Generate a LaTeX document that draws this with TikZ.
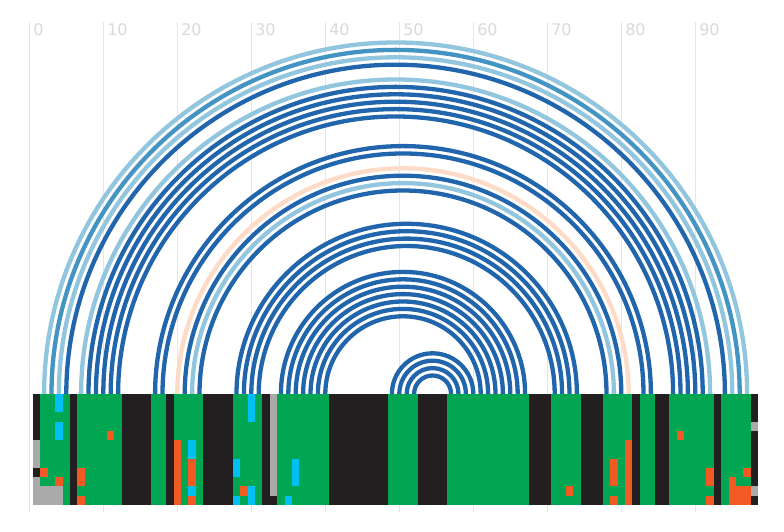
\documentclass[tikz,border=0pt]{standalone}
\usepackage{fontspec}
\setmainfont{DejaVu Sans}
\definecolor{arcL}{HTML}{92C5DE}
\definecolor{arcM}{HTML}{4393C3}
\definecolor{arcD}{HTML}{2166AC}
\definecolor{arcP}{HTML}{FDDBC7}
\definecolor{bdark}{HTML}{231F20}
\definecolor{bgreen}{HTML}{00A651}
\definecolor{bcyan}{HTML}{00BFF3}
\definecolor{borange}{HTML}{F15A22}
\definecolor{bgray}{HTML}{AAAAAA}
\definecolor{gridc}{HTML}{E6E6E6}
\definecolor{lblc}{HTML}{DADADA}
\tikzset{
  gridline/.style={draw=gridc, line width=1pt},
  axlabel/.style={anchor=north west, inner sep=0pt, text=lblc, font=\fontsize{16}{16}\selectfont},
  pairarc/.style={line width=4.3pt}
}
\begin{document}
\begin{tikzpicture}[x=1pt,y=1pt]
\useasboundingbox (0,0) rectangle (784,532);
\fill[white] (0,0) rectangle (784,532);
% grid and labels
\foreach \n in {0,...,9} {
  \draw[gridline] ({29.3+74*\n},20) -- ({29.3+74*\n},510);
  \pgfmathtruncatemacro{\lab}{10*\n}
  \node[axlabel] (lab\n) at ({29.3+74*\n+3.8},508.7) {\lab};
}
% arcs
\foreach \i/\j/\c in {2/97/arcL,3/96/arcM,4/95/arcL,5/94/arcD,
  7/92/arcL,8/91/arcD,9/90/arcD,10/89/arcD,11/88/arcD,12/87/arcD,
  17/84/arcD,18/83/arcD,20/81/arcP,21/80/arcD,22/79/arcL,23/78/arcD,
  28/74/arcD,29/73/arcD,30/72/arcD,31/71/arcD,
  34/67/arcD,35/66/arcD,36/65/arcD,37/64/arcD,38/63/arcD,39/62/arcD,40/61/arcD,
  49/60/arcD,50/59/arcD,51/58/arcD,52/57/arcD} {
  \draw[pairarc, draw=\c] ({29.3+7.4*\j},138) arc[start angle=0, end angle=180, radius={3.7*(\j-\i)}];
}
% bar base columns
\foreach \a/\b/\c in {1/1/bdark,2/5/bgreen,6/6/bdark,7/12/bgreen,13/16/bdark,17/18/bgreen,
  19/19/bdark,20/23/bgreen,24/27/bdark,28/31/bgreen,32/33/bdark,34/40/bgreen,41/48/bdark,
  49/52/bgreen,53/56/bdark,57/67/bgreen,68/70/bdark,71/74/bgreen,75/77/bdark,78/81/bgreen,
  82/82/bdark,83/84/bgreen,85/86/bdark,87/92/bgreen,93/93/bdark,94/97/bgreen,98/98/bdark} {
  \fill[\c] ({29.3+7.4*(\a-0.5)},27) rectangle ({29.3+7.4*(\b+0.5)},138);
}
% bar cells
\foreach \k/\p/\q/\c in {1/6/8/bgray,1/10/12/bgray,2/9/9/borange,2/11/12/bgray,3/11/12/bgray,
  4/1/2/bcyan,4/4/5/bcyan,4/10/10/borange,4/11/12/bgray,7/9/10/borange,7/12/12/borange,
  11/5/5/borange,20/6/12/borange,22/6/7/bcyan,22/8/10/borange,22/11/11/bcyan,22/12/12/borange,
  28/8/9/bcyan,28/12/12/bcyan,29/11/11/borange,30/1/3/bcyan,30/11/12/bcyan,33/1/11/bgray,
  35/12/12/bcyan,36/8/10/bcyan,73/11/11/borange,79/8/10/borange,79/12/12/borange,
  81/6/12/borange,88/5/5/borange,92/9/10/borange,92/12/12/borange,95/10/12/borange,
  96/11/12/borange,97/9/9/borange,97/11/12/borange,98/4/4/bgray,98/11/11/bgray} {
  \fill[\c] ({29.3+7.4*(\k-0.5)},{138-9.25*(\p-1)}) rectangle ({29.3+7.4*(\k+0.5)},{138-9.25*\q});
}
\end{tikzpicture}
\end{document}
